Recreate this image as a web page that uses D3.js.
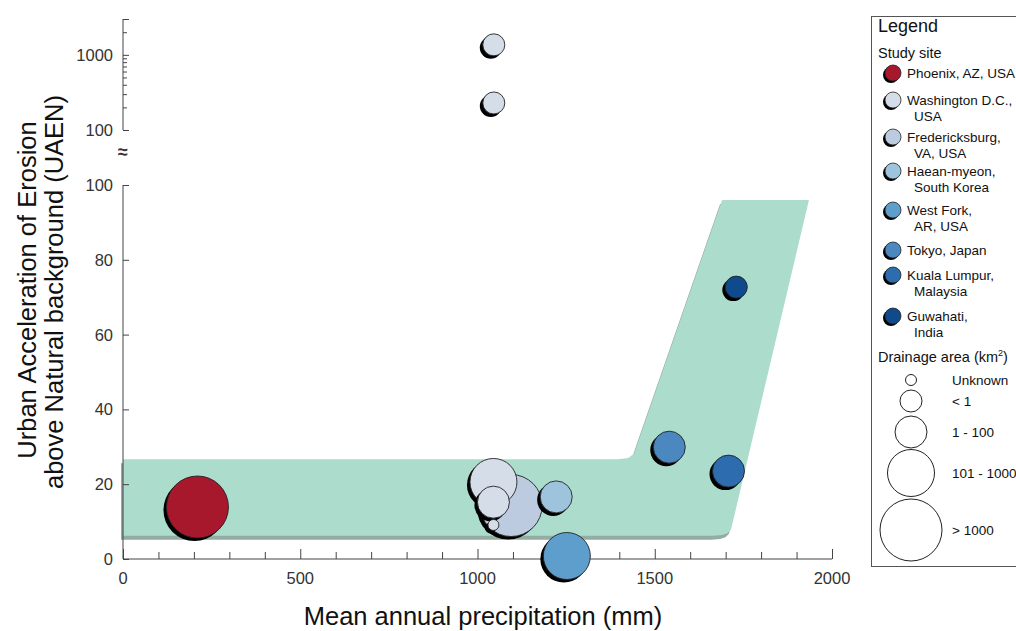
<!DOCTYPE html>
<html lang="en">
<head>
<meta charset="UTF-8">
<script src="https://d3js.org/d3.v7.min.js"></script>
<style>
  body { margin: 0; background: #fff; font-family: Arial, "Liberation Sans", sans-serif; }
  .axis path, .axis line { stroke: #444; }
</style>
</head>
<body>
<script>
// study sites and their colours
var sites = ["Phoenix", "Washington", "Fredericksburg", "Haean", "WestFork", "Tokyo", "KualaLumpur", "Guwahati"];
var siteLabels = [["Phoenix, AZ, USA"], ["Washington D.C.,", "USA"], ["Fredericksburg,", "VA, USA"],
  ["Haean-myeon,", "South Korea"], ["West Fork,", "AR, USA"], ["Tokyo, Japan"],
  ["Kuala Lumpur,", "Malaysia"], ["Guwahati,", "India"]];
var siteColors = ["#a8182c", "#d5dde9", "#bccbe0", "#9dc3dd", "#5e9ecd", "#4a88bf", "#2d6cae", "#0f4a8d"];

// drainage area classes
var sizeClasses = ["Unknown", "< 1", "1 - 100", "101 - 1000", "> 1000"];

// points (drawing order)
var pSite   = ["Phoenix", "Fredericksburg", "Washington", "Washington", "Washington", "Haean", "WestFork", "Tokyo", "KualaLumpur", "Guwahati", "Washington", "Washington"];
var pPrecip = [210, 1095, 1045, 1045, 1045, 1222, 1252, 1541, 1708, 1730, 1046, 1046];
var pUaen   = [13.9, 14.3, 20.6, 15.2, 9.1, 16.6, 0.8, 29.9, 23.5, 72.7, 1360, 229];
var pSize   = ["> 1000", "> 1000", "101 - 1000", "1 - 100", "Unknown", "1 - 100", "101 - 1000", "1 - 100", "1 - 100", "< 1", "< 1", "< 1"];

// envelope band outline (precip, UAEN)
var bandX = [0, 1395, 1425, 1442, 1455, 1690, 1935, 1715, 1705, 1690, 1665, 0];
var bandY = [26.7, 26.7, 27.0, 28.2, 31.8, 96, 96, 7.8, 6.9, 6.4, 6.2, 6.2];

var xTicks = [0, 500, 1000, 1500, 2000];
var yTicks = [0, 20, 40, 60, 80, 100];
var yLogTicks = [100, 1000];
var yLogMinor = [200, 300, 400, 500, 600, 700, 800, 900, 2000, 3000];

var W = 1016, H = 631;
var svg = d3.select("body").append("svg").attr("width", W).attr("height", H);

var x = d3.scaleLinear().domain([0, 2000]).range([123, 832]);
var y = d3.scaleLinear().domain([0, 100]).range([559, 185]);
var yLog = d3.scaleLog().domain([100, 3000]).range([130, 19]);
var r = d3.scaleOrdinal().domain(sizeClasses).range([5.5, 11, 16, 23.5, 31]);
var color = d3.scaleOrdinal().domain(sites).range(siteColors);

function yPos(v) { return v > 100 ? yLog(v) : y(v); }

// band with shadow
var bandPts = bandX.map(function(d, i) { return [d, bandY[i]]; });
var bandLine = d3.line().x(function(d) { return x(d[0]); }).y(function(d) { return y(d[1]); });
svg.append("path").datum(bandPts).attr("d", bandLine).attr("fill", "#94aca3")
  .attr("transform", "translate(-2,4)");
svg.append("path").datum(bandPts).attr("d", bandLine).attr("fill", "#acdccc");

// x axis (ticks inward)
var xAxis = svg.append("g").attr("class", "axis").attr("transform", "translate(0,559)");
xAxis.call(d3.axisTop(x).tickValues(d3.range(0, 2001, 100)).tickSize(7).tickFormat(""));
xAxis.selectAll(".tick line").filter(function(d) { return d % 500 === 0; }).attr("y2", -10);
xAxis.select(".domain").attr("d", "M" + x(0) + ",0H" + x(2000));
svg.append("g").selectAll("text").data(xTicks).join("text")
  .attr("x", function(d) { return x(d); }).attr("y", 584)
  .attr("text-anchor", "middle").attr("font-size", 16.5).attr("fill", "#333")
  .text(function(d) { return d; });

// lower y axis
var yAxis = svg.append("g").attr("class", "axis").attr("transform", "translate(123,0)");
yAxis.call(d3.axisRight(y).tickValues(yTicks).tickSize(6).tickFormat(""));
yAxis.select(".domain").attr("d", "M0," + y(0) + "V" + y(100));
svg.append("g").selectAll("text").data(yTicks).join("text")
  .attr("x", 113).attr("y", function(d) { return y(d); }).attr("dy", "0.36em")
  .attr("text-anchor", "end").attr("font-size", 16.5).attr("fill", "#333")
  .text(function(d) { return d; });

// upper log y axis
var yAxisLog = svg.append("g").attr("class", "axis").attr("transform", "translate(123,0)");
yAxisLog.call(d3.axisRight(yLog).tickValues(yLogTicks.concat(yLogMinor)).tickSize(4).tickFormat(""));
yAxisLog.selectAll(".tick line").filter(function(d) { return yLogTicks.indexOf(d) >= 0 || d === 3000; }).attr("x2", 6);
yAxisLog.select(".domain").attr("d", "M0," + yLog(100) + "V" + yLog(3000));
svg.append("g").selectAll("text").data(yLogTicks).join("text")
  .attr("x", 113).attr("y", function(d) { return yLog(d); }).attr("dy", "0.36em")
  .attr("text-anchor", "end").attr("font-size", 16.5).attr("fill", "#333")
  .text(function(d) { return d; });

// axis break mark
svg.append("text").attr("x", 123).attr("y", 158).attr("text-anchor", "middle")
  .attr("font-size", 18).attr("font-weight", "bold").attr("fill", "#333").text("\u2248");

// axis titles
svg.append("text").attr("transform", "translate(36,290) rotate(-90)")
  .attr("text-anchor", "middle").attr("font-size", 25.5).attr("fill", "#111")
  .text("Urban Acceleration of Erosion");
svg.append("text").attr("transform", "translate(63,292) rotate(-90)")
  .attr("text-anchor", "middle").attr("font-size", 25.5).attr("fill", "#111")
  .text("above Natural background (UAEN)");
svg.append("text").attr("x", 483).attr("y", 625).attr("text-anchor", "middle")
  .attr("font-size", 25.5).attr("fill", "#111").text("Mean annual precipitation (mm)");

// bubbles with offset shadows
var pts = pSite.map(function(s, i) { return { site: s, px: pPrecip[i], py: pUaen[i], size: pSize[i] }; });
var bub = svg.append("g").selectAll("g").data(pts).join("g")
  .attr("transform", function(d) { return "translate(" + x(d.px) + "," + yPos(d.py) + ")"; });
bub.append("circle").attr("cx", -3).attr("cy", 3).attr("r", function(d) { return r(d.size); }).attr("fill", "#000");
bub.append("circle").attr("r", function(d) { return r(d.size); })
  .attr("fill", function(d) { return color(d.site); }).attr("stroke", "#222").attr("stroke-width", 0.9);

// legend
var lg = svg.append("g");
lg.append("rect").attr("x", 871.5).attr("y", 16.5).attr("width", 170).attr("height", 550)
  .attr("fill", "#fff").attr("stroke", "#555");
lg.append("text").attr("x", 878).attr("y", 32).attr("font-size", 18).attr("fill", "#111").text("Legend");
lg.append("text").attr("x", 878).attr("y", 58).attr("font-size", 14.5).attr("fill", "#111").text("Study site");

var legY = [73, 100, 137, 171, 210, 250, 275, 316];
var items = lg.selectAll("g.site").data(sites).join("g").attr("class", "site")
  .attr("transform", function(d, i) { return "translate(0," + legY[i] + ")"; });
items.append("circle").attr("cx", 891).attr("cy", 2).attr("r", 8).attr("fill", "#000");
items.append("circle").attr("cx", 893).attr("cy", 0).attr("r", 8)
  .attr("fill", function(d) { return color(d); }).attr("stroke", "#222").attr("stroke-width", 0.8);
items.each(function(d, i) {
  var g = d3.select(this);
  siteLabels[i].forEach(function(t, j) {
    g.append("text").attr("x", j === 0 ? 907 : 914).attr("y", j * 16).attr("dy", "0.36em")
      .attr("font-size", 13.5).attr("fill", "#111").text(t);
  });
});

var dr = lg.append("text").attr("x", 878).attr("y", 362).attr("font-size", 14.5).attr("fill", "#111");
dr.append("tspan").text("Drainage area (km");
dr.append("tspan").attr("font-size", 9).attr("dy", -6).text("2");
dr.append("tspan").attr("dy", 6).text(")");

var sizeY = [380, 401, 432, 473, 530];
var sz = lg.selectAll("g.size").data(sizeClasses).join("g").attr("class", "size")
  .attr("transform", function(d, i) { return "translate(911," + sizeY[i] + ")"; });
sz.append("circle").attr("r", function(d) { return r(d); }).attr("fill", "#fff").attr("stroke", "#222").attr("stroke-width", 1);
sz.append("text").attr("x", 41).attr("dy", "0.36em").attr("font-size", 13.5).attr("fill", "#111")
  .text(function(d) { return d; });
</script>
</body>
</html>
